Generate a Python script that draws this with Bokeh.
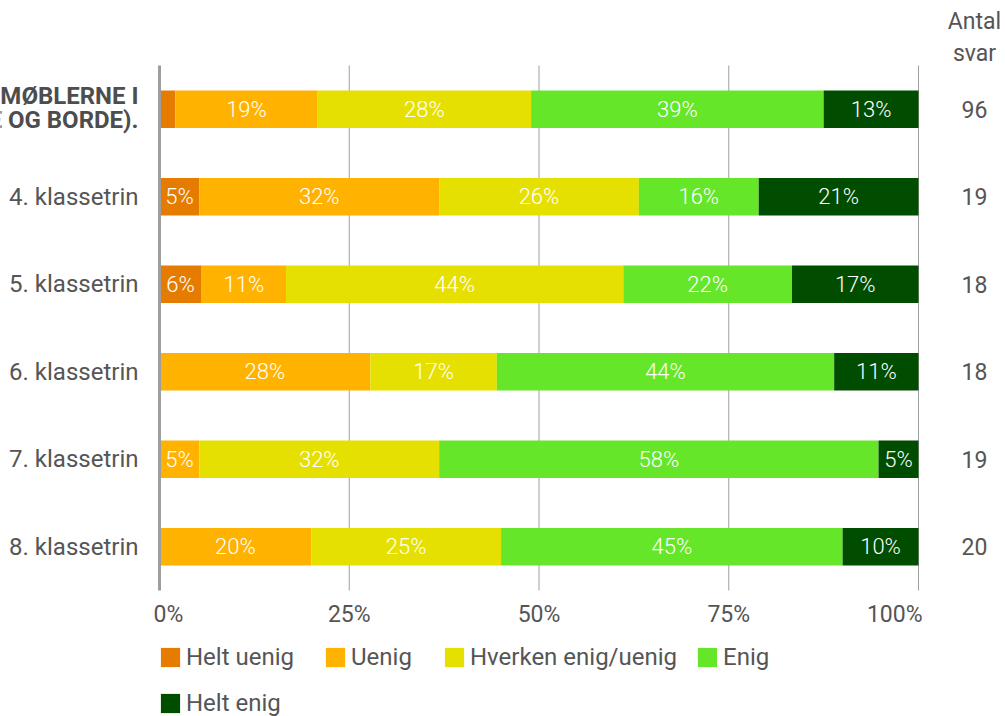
from bokeh.plotting import figure
from bokeh.models import Range1d, ColumnDataSource, Legend, LegendItem
from bokeh.core.properties import value
from bokeh.embed import file_html
from bokeh.resources import INLINE

# ---------------- data ----------------
categories = [
    "JEG ER GLAD FOR MØBLERNE I\nKLASSEN (F.EKS. STOLE OG BORDE).",
    "4. klassetrin", "5. klassetrin", "6. klassetrin", "7. klassetrin", "8. klassetrin",
]
series_names = ["Helt uenig", "Uenig", "Hverken enig/uenig", "Enig", "Helt enig"]
# answer counts per row
helt_uenig = [2, 1, 1, 0, 0, 0]
uenig = [18, 6, 2, 5, 1, 4]
hverken = [27, 5, 8, 3, 6, 5]
enig = [37, 3, 4, 8, 11, 9]
helt_enig = [12, 4, 3, 2, 1, 2]
antal_svar = [96, 19, 18, 18, 19, 20]
x_ticks = [0, 25, 50, 75, 100]
x_tick_labels = ["0%", "25%", "50%", "75%", "100%"]

# ---------------- style / layout ----------------
colors = ["#E57C00", "#FFB300", "#E6E000", "#66E629", "#004D00"]
grey = "#555555"
FONT = "Roboto"
W, H = 1005, 716
X0, X1 = 159, 918           # canvas px of 0% and 100%
ROW0, ROWH = 108.75, 87.5   # canvas px of first row centre, row pitch
pxx = (X1 - X0) / 100.0

p = figure(width=W, height=H,
           x_range=Range1d(-X0 / pxx, (W - X0) / pxx),
           y_range=Range1d((H - ROW0) / ROWH, -ROW0 / ROWH),
           output_backend="svg", toolbar_location=None,
           x_axis_location=None, y_axis_location=None,
           min_border=0, outline_line_color=None)
p.grid.visible = False

n_rows = len(categories)
rows = list(range(n_rows))
top_edge, bottom_edge = -0.5, n_rows - 0.5

# grid lines
p.segment(x0=x_ticks[1:], x1=x_ticks[1:], y0=top_edge, y1=bottom_edge,
          line_color="#a0a0a0", line_width=1)

series = [helt_uenig, uenig, hverken, enig, helt_enig]
left = [0.0] * n_rows
renderers = []
label_sources = []
for name, counts, col in zip(series_names, series, colors):
    pct = [c / n * 100 for c, n in zip(counts, antal_svar)]
    right = [l + v for l, v in zip(left, pct)]
    src = ColumnDataSource(dict(
        y=rows, left=left, right=right,
        mid=[(l + r) / 2 for l, r in zip(left, right)],
        label=[f"{int(v + 0.5)}%" if v >= 4 else "" for v in pct],
    ))
    r = p.hbar(y="y", left="left", right="right", height=0.43, source=src,
               fill_color=col, line_color=None)
    renderers.append(r)
    label_sources.append(src)
    left = right

for src in label_sources:
    p.text(x="mid", y="y", text="label", source=src, text_align="center",
           text_baseline="middle", text_color="white",
           text_font=value("Roboto Light"), text_font_size="22px")

# 0% axis line
p.segment(x0=[0], x1=[0], y0=top_edge, y1=bottom_edge, line_color="#9e9e9e", line_width=3)

# category labels
p.text(x=[0], y=rows[:1], text=categories[:1], x_offset=-21, y_offset=-1, text_align="right",
       text_baseline="middle", text_font=value(FONT), text_font_size="24px",
       text_font_style="bold", text_line_height=0.85, text_color="#4d4d4d")
p.text(x=[0] * (n_rows - 1), y=rows[1:], text=categories[1:], x_offset=-21,
       text_align="right", text_baseline="middle", text_font=value(FONT),
       text_font_size="24px", text_color=grey)

# counts column
p.text(x=[100], y=[top_edge], text=["Antal\nsvar"], x_offset=56, y_offset=-28,
       text_align="center", text_baseline="middle", text_font=value(FONT),
       text_font_size="23px", text_line_height=1.2, text_color=grey)
p.text(x=[100] * n_rows, y=rows, text=[str(n) for n in antal_svar], x_offset=56,
       text_align="center", text_baseline="middle", text_font=value(FONT),
       text_font_size="23px", text_color=grey)

# x tick labels
aligns = ["left", "center", "center", "center", "right"]
offs = [-6, 0, 0, 0, 4]
for t, lab, a, o in zip(x_ticks, x_tick_labels, aligns, offs):
    p.text(x=[t], y=[bottom_edge], text=[lab], x_offset=o, y_offset=24, text_align=a,
           text_baseline="middle", text_font=value(FONT), text_font_size="23px",
           text_color=grey)

# legend: one small legend per entry, laid out in two rows
leg_pos = [(158, 45), (323, 45), (442, 45), (695, 45), (158, -1)]
for name, r, loc in zip(series_names, renderers, leg_pos):
    lg = Legend(items=[LegendItem(label=name, renderers=[r])], location=loc,
                orientation="horizontal", padding=0, margin=0, border_line_color=None,
                background_fill_alpha=0, glyph_width=24, glyph_height=24,
                label_standoff=4, label_height=24, label_text_font=FONT,
                label_text_font_size="24px", label_text_color=grey)
    p.add_layout(lg)

open("out.html", "w").write(file_html(p, INLINE))
